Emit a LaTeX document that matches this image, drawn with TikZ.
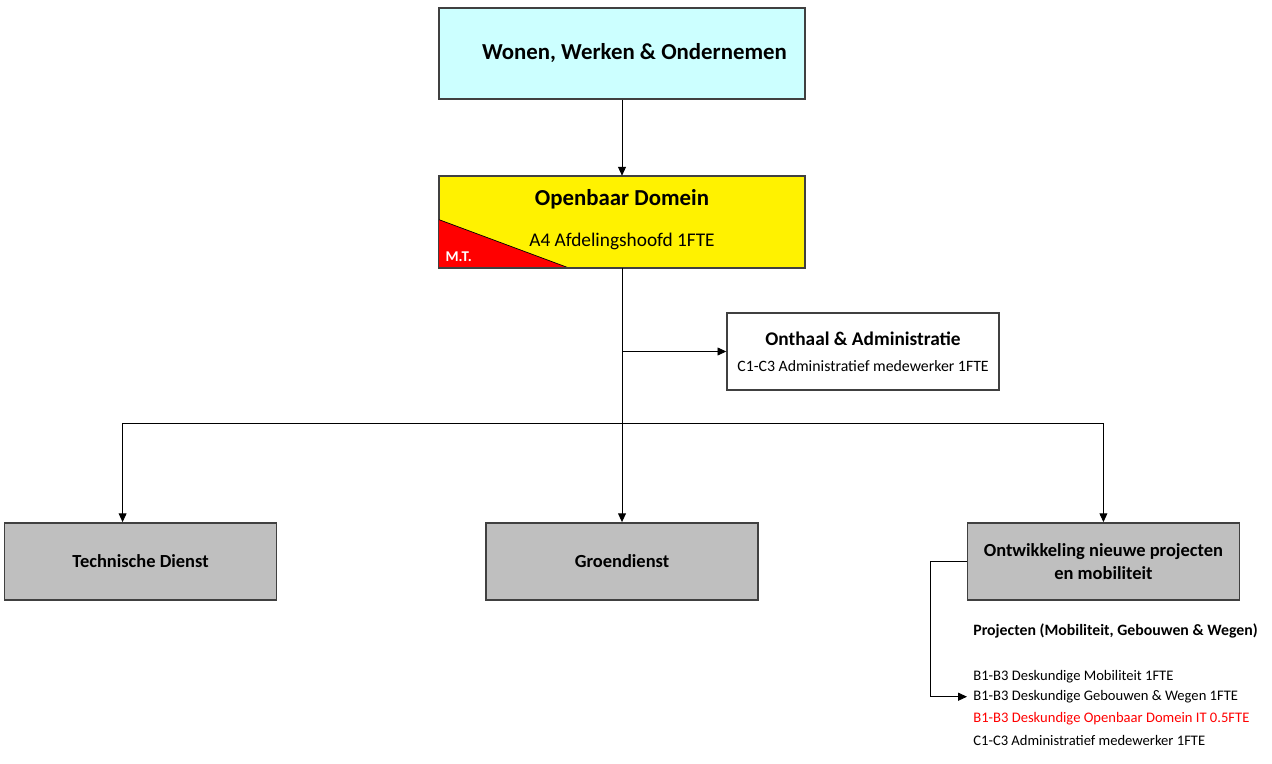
\documentclass[tikz,border=0pt]{standalone}
\usepackage{fontspec}
\setmainfont{Carlito}
\usetikzlibrary{arrows.meta,positioning,fit,calc}
\definecolor{headcyan}{RGB}{204,255,255}
\definecolor{deptgray}{RGB}{191,191,191}
\definecolor{mtred}{RGB}{255,0,0}

\begin{document}
\begin{tikzpicture}[
  font=\fontsize{9}{11}\selectfont,
  unit/.style={draw=black!75, line width=0.8pt, minimum width=5.44cm, minimum height=1.54cm, align=center},
  dept/.style={unit, fill=deptgray, font=\fontsize{10.5}{13}\selectfont\bfseries},
  big/.style={unit, minimum width=7.32cm, minimum height=1.82cm},
  item/.style={inner sep=0pt, anchor=base west, font=\fontsize{8.3}{10}\selectfont},
  arr/.style={-{Triangle[length=5pt,width=4.5pt]}, line width=0.5pt}
]
\useasboundingbox (0,0) rectangle (25.44,-15.28);

% top of the tree
\node[big, fill=headcyan, font=\fontsize{13}{15}\selectfont\bfseries] (wwo) at (12.44,-1.07) {\hspace{0.5cm}Wonen, Werken \& Ondernemen};
\node[big, fill=yellow, below=1.52cm of wwo] (od) {};
\fill[mtred] (od.west) ++(0,0.05) -- (od.south west) -- ++(2.62,0) -- cycle;
\draw[black, line width=0.4pt] ($(od.west)+(0,0.05)$) -- ($(od.south west)+(2.62,0)$);
\draw[black!75, line width=0.8pt] (od.north west) rectangle (od.south east);
\node[font=\fontsize{13}{15}\selectfont\bfseries] (odtitle) at ($(od.center)+(0,0.45)$) {Openbaar Domein};
\node[font=\fontsize{11}{13}\selectfont] (odsub) at ($(od.center)+(0,-0.39)$) {A4 Afdelingshoofd 1FTE};
\node[text=white, font=\fontsize{8.5}{10}\selectfont\bfseries, anchor=south west, inner sep=0pt] (mt) at ($(od.south west)+(0.14,0.12)$) {M.T.};

% onthaal
\node[unit, fill=white, minimum width=5.44cm] (oa) at (17.26,-7.03) {{\fontsize{11}{13}\selectfont\bfseries Onthaal \& Administratie}\\[4pt]C1-C3 Administratief medewerker 1FTE};

% diensten
\node[dept, below=5.08cm of od] (gd) {Groendienst};
\node[dept, left=4.16cm of gd] (td) {Technische Dienst};
\node[dept, right=4.16cm of gd] (onp) {Ontwikkeling nieuwe projecten\\en mobiliteit};
\coordinate (bus) at ($(od.south)!0.611!(gd.north)$);
\coordinate (tdin) at ($(td.north)+(-0.36,0)$);

% projecten lijst
\node[item, anchor=west, font=\fontsize{9}{11}\selectfont\bfseries] (pj) at (19.46,-12.62) {Projecten (Mobiliteit, Gebouwen \& Wegen)};
\node[item] (l1) at ($(pj.base west)+(0,-0.89)$) {B1-B3 Deskundige Mobiliteit 1FTE};
\node[item] (l2) at ($(l1.base west)+(0,-0.41)$) {B1-B3 Deskundige Gebouwen \& Wegen 1FTE};
\node[item, text=mtred] (l3) at ($(l2.base west)+(0,-0.44)$) {B1-B3 Deskundige Openbaar Domein IT 0.5FTE};
\node[item] (l4) at ($(l3.base west)+(0,-0.45)$) {C1-C3 Administratief medewerker 1FTE};
\coordinate (hook) at ($(onp.west)+(-0.72,0)$);

% verbindingen
\draw[arr] (wwo) -- (od);
\draw[arr] (od) -- (gd);
\draw[arr] (od.south |- oa.west) -- (oa.west);
\draw[arr] (bus) -| (tdin);
\draw[arr] (bus) -| (onp.north);
\draw[arr, shorten >=0.12cm] (onp.west) -- (hook) |- (l2.west);
\end{tikzpicture}
\end{document}
